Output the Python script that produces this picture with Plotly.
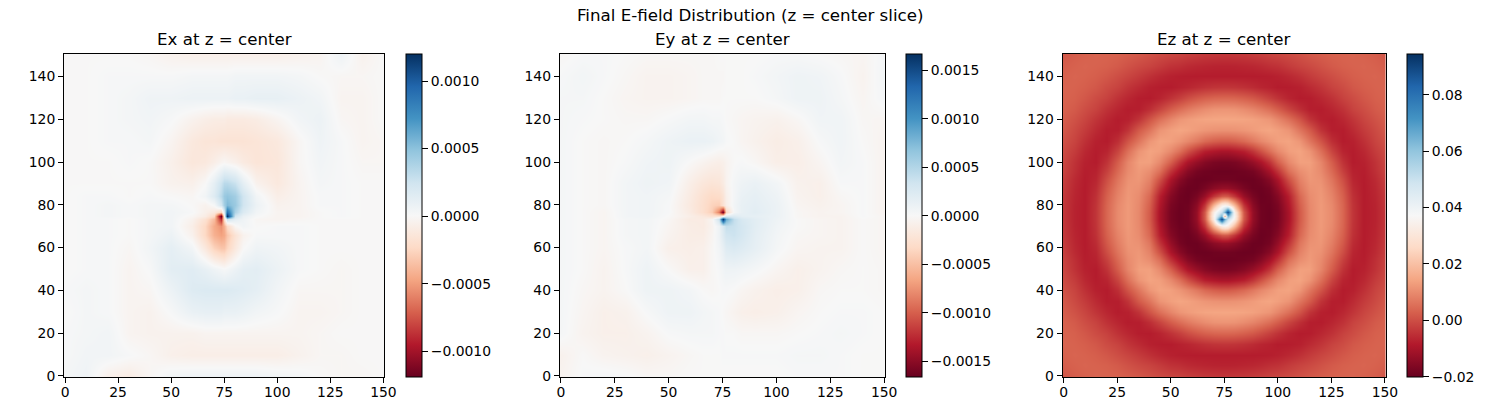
import plotly.graph_objects as go

ex_nodes = [0, 10, 20, 30, 40, 50, 60, 66, 70, 73.5, 75, 76.5, 80, 84, 90, 100, 110, 120, 130, 140, 150]
ez_nodes = [0, 5, 10, 15, 20, 25, 30, 35, 40, 45, 50, 54, 58, 62, 66, 70, 73.5, 75, 76.5, 80, 84, 88, 92, 96,
            100, 105, 110, 115, 120, 125, 130, 135, 140, 145, 150]

# Values, bottom row first. Ex in units of 1.5e-5, Ey in 1.7e-5, Ez in 1e-4.
ex_values = [
 [2,4,-4,-6,-1,3,4,4,4,4,4,4,4,4,4,3,2,0,-1,-1,0],
 [1,3,3,1,-1,-4,-5,-5,-5,-5,-5,-5,-5,-5,-5,-5,-3,-1,-1,0,0],
 [1,2,3,-2,-3,-3,-3,-2,-2,-2,-2,-2,-2,-2,-2,-2,-2,-1,0,0,0],
 [0,2,1,-2,-3,1,6,7,7,7,6,6,6,5,3,1,-2,-2,-1,0,0],
 [1,2,1,-2,-1,5,11,12,12,12,12,12,11,10,8,3,-1,-1,-1,0,0],
 [0,1,1,-2,1,9,10,7,4,2,1,2,5,8,9,5,1,0,-1,0,0],
 [0,1,1,-1,3,8,3,-8,-18,-22,-22,-17,-8,0,4,3,1,0,0,0,0],
 [0,1,1,0,2,5,-3,-16,-28,-32,-30,-22,-11,-3,1,1,1,0,0,0,0],
 [0,1,1,0,2,3,-5,-16,-30,-36,-28,-15,-1,3,0,1,1,0,0,0,0],
 [0,1,1,0,2,3,-3,-12,-25,-60,-13,17,8,4,-1,-2,-1,0,0,0,0],
 [0,1,2,1,2,3,-1,-6,-16,-80,0,80,16,6,1,-2,-2,0,1,0,0],
 [0,1,2,1,2,3,1,-4,-8,-17,13,60,25,12,3,-2,-2,0,1,0,0],
 [0,1,2,1,2,2,0,-3,1,15,28,36,30,16,5,-3,-2,1,1,0,0],
 [0,1,1,0,1,0,-1,3,11,22,30,32,28,16,3,-5,-2,1,1,0,0],
 [0,0,0,0,0,-3,-4,0,8,17,22,22,18,8,-3,-8,-2,2,1,0,0],
 [0,0,0,1,0,-4,-9,-8,-5,-2,-1,-2,-4,-7,-10,-9,-1,3,1,-1,-1],
 [0,0,1,1,2,-2,-8,-10,-10,-11,-11,-11,-11,-11,-10,-8,-1,4,1,-2,-1],
 [0,0,1,2,3,1,-3,-5,-6,-6,-6,-7,-7,-7,-6,-2,3,5,-1,-2,0],
 [0,0,1,2,4,4,5,5,5,5,5,5,6,6,7,7,5,3,-2,-2,0],
 [0,0,1,1,1,1,2,2,2,2,2,2,3,3,3,3,2,0,-1,-1,0],
 [0,0,0,0,-1,-3,-4,-4,-4,-4,-4,-4,-4,-4,-4,-4,-3,-2,4,-3,0],
]

ey_values = [
 [-3,1,2,1,-1,-1,0,0,0,0,0,0,0,0,0,0,1,1,1,0,0],
 [-4,0,-3,-4,-5,-3,-1,0,0,0,1,1,1,1,1,1,2,2,1,0,0],
 [2,-3,-5,-5,-3,1,2,2,2,1,1,0,0,-1,-1,-1,0,1,2,1,0],
 [2,-2,-5,-4,1,5,5,3,2,1,0,-1,-3,-5,-6,-5,-2,0,1,1,0],
 [2,-1,-3,0,5,5,3,0,-1,0,1,1,0,-2,-4,-6,-5,-1,0,0,-1],
 [2,0,-3,1,5,0,-5,-5,-1,1,3,5,5,4,2,-2,-5,-3,-1,0,-1],
 [2,0,-2,1,3,-5,-6,-5,-1,3,8,13,15,13,9,2,-2,-3,-3,0,-2],
 [2,0,-2,2,3,-3,-7,-7,-2,5,13,19,21,17,10,3,-1,-2,-3,0,-2],
 [2,0,-2,2,3,-2,-7,-8,-3,5,15,24,22,18,11,4,0,-2,-3,0,-2],
 [2,0,-2,2,3,-1,-8,-8,-2,20,98,50,24,16,11,5,0,-2,-3,0,-2],
 [2,0,-2,3,4,0,-6,-10,-14,-14,0,14,14,10,9,6,-1,-3,-3,1,-2],
 [2,0,-2,3,4,1,-8,-16,-24,-50,-98,-20,2,8,11,6,-1,-3,-2,1,-3],
 [2,0,-1,3,4,1,-9,-16,-22,-24,-14,-6,3,8,10,6,-2,-4,-2,1,-3],
 [2,0,-1,3,4,2,-8,-15,-19,-18,-13,-5,2,7,9,5,-3,-5,-1,1,-3],
 [2,0,-1,3,5,4,-6,-11,-13,-12,-8,-3,2,5,7,3,-4,-5,1,1,-3],
 [2,0,-1,1,4,5,0,-3,-5,-6,-5,-3,0,1,-1,-6,-6,-2,3,1,-3],
 [2,0,-1,0,2,5,7,7,6,4,3,1,0,-2,-4,-7,-5,1,4,0,-3],
 [2,1,0,-1,-1,1,3,3,2,2,1,0,-1,-2,-3,-4,-1,4,4,-1,-2],
 [2,2,0,-2,-3,-3,-2,-1,-1,-1,0,0,0,0,0,2,5,5,2,-2,2],
 [1,3,1,-1,-3,-3,-2,-1,-1,-1,-1,0,0,0,1,3,5,4,1,-3,3],
 [-1,1,1,0,-1,-1,-1,-1,-1,0,0,0,0,0,0,1,1,0,-1,-2,2],
]

ez_values = [
 [15,25,31,35,33,30,23,15,4,-6,-14,-19,-26,-31,-36,-38,-40,-40,-40,-38,-36,-31,-26,-19,-14,-6,4,15,23,30,33,35,31,25,15],
 [25,31,35,32,28,19,6,-7,-17,-30,-45,-50,-58,-63,-66,-69,-70,-70,-70,-69,-66,-63,-58,-50,-45,-30,-17,-7,6,19,28,32,35,31,25],
 [31,35,32,26,15,0,-14,-30,-47,-61,-72,-77,-79,-80,-80,-80,-80,-80,-80,-80,-80,-80,-79,-77,-72,-61,-47,-30,-14,0,15,26,32,35,31],
 [35,32,26,15,-3,-18,-40,-57,-73,-79,-80,-72,-65,-55,-47,-42,-40,-40,-40,-42,-47,-55,-65,-72,-80,-79,-73,-57,-40,-18,-3,15,26,32,35],
 [33,28,15,-3,-20,-45,-63,-78,-80,-67,-43,-22,0,18,30,38,40,40,40,38,30,18,0,-22,-43,-67,-80,-78,-63,-45,-20,-3,15,28,33],
 [30,19,0,-18,-45,-65,-79,-76,-50,-15,25,52,73,90,103,113,115,115,115,113,103,90,73,52,25,-15,-50,-76,-79,-65,-45,-18,0,19,30],
 [23,6,-14,-40,-63,-79,-73,-42,10,55,92,117,128,137,142,144,145,145,145,144,142,137,128,117,92,55,10,-42,-73,-79,-63,-40,-14,6,23],
 [15,-7,-30,-57,-78,-76,-42,20,65,115,134,144,138,127,118,112,110,110,110,112,118,127,138,144,134,115,65,20,-42,-76,-78,-57,-30,-7,15],
 [4,-17,-47,-73,-80,-50,10,65,118,141,135,117,95,70,45,28,20,20,20,28,45,70,95,117,135,141,118,65,10,-50,-80,-73,-47,-17,4],
 [-6,-30,-61,-79,-67,-15,55,115,141,132,97,55,5,-40,-75,-90,-100,-100,-100,-90,-75,-40,5,55,97,132,141,115,55,-15,-67,-79,-61,-30,-6],
 [-14,-45,-72,-80,-43,25,92,134,135,97,28,-42,-97,-130,-155,-170,-175,-175,-175,-170,-155,-130,-97,-42,28,97,135,134,92,25,-43,-80,-72,-45,-14],
 [-19,-50,-77,-72,-22,45,100,125,105,55,-42,-105,-150,-177,-186,-190,-193,-193,-193,-190,-186,-177,-150,-105,-42,55,105,125,100,45,-22,-72,-77,-50,-19],
 [-26,-58,-79,-65,0,63,110,120,85,5,-97,-150,-180,-192,-193,-188,-185,-185,-185,-188,-193,-192,-180,-150,-97,5,85,120,110,63,0,-65,-79,-58,-26],
 [-31,-63,-80,-55,18,78,118,110,65,-40,-130,-177,-192,-191,-172,-145,-130,-130,-130,-145,-172,-191,-192,-177,-130,-40,65,110,118,78,18,-55,-80,-63,-31],
 [-36,-66,-80,-47,30,88,122,102,42,-75,-155,-186,-193,-172,-125,-40,15,20,15,-40,-125,-172,-193,-186,-155,-75,42,102,122,88,30,-47,-80,-66,-36],
 [-38,-69,-80,-42,38,97,125,97,28,-90,-170,-190,-188,-145,-40,175,330,350,330,175,-40,-145,-188,-190,-170,-90,28,97,125,97,38,-42,-80,-69,-38],
 [-40,-70,-80,-40,40,100,125,95,20,-100,-175,-193,-185,-130,15,330,900,650,500,330,15,-130,-185,-193,-175,-100,20,95,125,100,40,-40,-80,-70,-40],
 [-40,-70,-80,-40,40,100,125,95,20,-100,-175,-193,-185,-130,20,350,650,150,650,350,20,-130,-185,-193,-175,-100,20,95,125,100,40,-40,-80,-70,-40],
 [-40,-70,-80,-40,40,100,125,95,20,-100,-175,-193,-185,-130,15,330,500,650,900,330,15,-130,-185,-193,-175,-100,20,95,125,100,40,-40,-80,-70,-40],
 [-38,-69,-80,-42,38,97,125,97,28,-90,-170,-190,-188,-145,-40,175,330,350,330,175,-40,-145,-188,-190,-170,-90,28,97,125,97,38,-42,-80,-69,-38],
 [-36,-66,-80,-47,30,88,122,102,42,-75,-155,-186,-193,-172,-125,-40,15,20,15,-40,-125,-172,-193,-186,-155,-75,42,102,122,88,30,-47,-80,-66,-36],
 [-31,-63,-80,-55,18,78,118,110,65,-40,-130,-177,-192,-191,-172,-145,-130,-130,-130,-145,-172,-191,-192,-177,-130,-40,65,110,118,78,18,-55,-80,-63,-31],
 [-26,-58,-79,-65,0,63,110,120,85,5,-97,-150,-180,-192,-193,-188,-185,-185,-185,-188,-193,-192,-180,-150,-97,5,85,120,110,63,0,-65,-79,-58,-26],
 [-19,-50,-77,-72,-22,45,100,125,105,55,-42,-105,-150,-177,-186,-190,-193,-193,-193,-190,-186,-177,-150,-105,-42,55,105,125,100,45,-22,-72,-77,-50,-19],
 [-14,-45,-72,-80,-43,25,92,134,135,97,28,-42,-97,-130,-155,-170,-175,-175,-175,-170,-155,-130,-97,-42,28,97,135,134,92,25,-43,-80,-72,-45,-14],
 [-6,-30,-61,-79,-67,-15,55,115,141,132,97,55,5,-40,-75,-90,-100,-100,-100,-90,-75,-40,5,55,97,132,141,115,55,-15,-67,-79,-61,-30,-6],
 [4,-17,-47,-73,-80,-50,10,65,118,141,135,117,95,70,45,28,20,20,20,28,45,70,95,117,135,141,118,65,10,-50,-80,-73,-47,-17,4],
 [15,-7,-30,-57,-78,-76,-42,20,65,115,134,144,138,127,118,112,110,110,110,112,118,127,138,144,134,115,65,20,-42,-76,-78,-57,-30,-7,15],
 [23,6,-14,-40,-63,-79,-73,-42,10,55,92,117,128,137,142,144,145,145,145,144,142,137,128,117,92,55,10,-42,-73,-79,-63,-40,-14,6,23],
 [30,19,0,-18,-45,-65,-79,-76,-50,-15,25,52,73,90,103,113,115,115,115,113,103,90,73,52,25,-15,-50,-76,-79,-65,-45,-18,0,19,30],
 [33,28,15,-3,-20,-45,-63,-78,-80,-67,-43,-22,0,18,30,38,40,40,40,38,30,18,0,-22,-43,-67,-80,-78,-63,-45,-20,-3,15,28,33],
 [35,32,26,15,-3,-18,-40,-57,-73,-79,-80,-72,-65,-55,-47,-42,-40,-40,-40,-42,-47,-55,-65,-72,-80,-79,-73,-57,-40,-18,-3,15,26,32,35],
 [31,35,32,26,15,0,-14,-30,-47,-61,-72,-77,-79,-80,-80,-80,-80,-80,-80,-80,-80,-80,-79,-77,-72,-61,-47,-30,-14,0,15,26,32,35,31],
 [25,31,35,32,28,19,6,-7,-17,-30,-45,-50,-58,-63,-66,-69,-70,-70,-70,-69,-66,-63,-58,-50,-45,-30,-17,-7,6,19,28,32,35,31,25],
 [15,25,31,35,33,30,23,15,4,-6,-14,-19,-26,-31,-36,-38,-40,-40,-40,-38,-36,-31,-26,-19,-14,-6,4,15,23,30,33,35,31,25,15],
]

titles = ["Ex at z = center", "Ey at z = center", "Ez at z = center"]
suptitle = "Final E-field Distribution (z = center slice)"
ex_ticks = [-0.001, -0.0005, 0, 0.0005, 0.001]
ey_ticks = [-0.0015, -0.001, -0.0005, 0, 0.0005, 0.001, 0.0015]
ez_ticks = [-0.02, 0, 0.02, 0.04, 0.06, 0.08]
x_ticks = [0, 25, 50, 75, 100, 125, 150]
y_ticks = [0, 20, 40, 60, 80, 100, 120, 140]

W, H = 1500, 400
L, R, TOP, BOTTOM = 63.7, 1386.3, 54.3, 376.7
FONT = "DejaVu Sans"
RDBU = ["#67001f", "#b2182b", "#d6604d", "#f4a582", "#fddbc7", "#f7f7f7",
        "#d1e5f0", "#92c5de", "#4393c3", "#2166ac", "#053061"]


def px(v):
    return (v - L) / (R - L)


def py(v):
    return (BOTTOM - v) / (BOTTOM - TOP)


panels = [
    dict(z=ex_values, nodes=ex_nodes, unit=1.5e-5, zmin=-0.00119, zmax=0.00120, ticks=ex_ticks, fmt=".4f",
         left=63.7, right=384.3, cb=405.7),
    dict(z=ey_values, nodes=ex_nodes, unit=1.7e-5, zmin=-0.00166, zmax=0.00167, ticks=ey_ticks, fmt=".4f",
         left=559.7, right=885.3, cb=906.3),
    dict(z=ez_values, nodes=ez_nodes, unit=1e-4, zmin=-0.0201, zmax=0.0945, ticks=ez_ticks, fmt=".2f",
         left=1062.7, right=1386.3, cb=1407.3),
]

fig = go.Figure()
layout = dict(
    width=W, height=H,
    margin=dict(l=L, r=W - R, t=TOP, b=H - BOTTOM, pad=0, autoexpand=False),
    paper_bgcolor="white", plot_bgcolor="white",
    font=dict(family=FONT, size=13.9, color="black"), showlegend=False, annotations=[],
)
axis_style = dict(showgrid=False, zeroline=False, showline=True, linecolor="black", linewidth=1,
                  mirror=True, ticks="outside", ticklen=5, tickwidth=1, tickcolor="black",
                  range=[-0.5, 150.5], tickfont=dict(family=FONT, size=13.9, color="black"))

for i, p in enumerate(panels):
    n = "" if i == 0 else str(i + 1)
    fig.add_trace(go.Heatmap(
        x=p["nodes"], y=p["nodes"], z=[[v * p["unit"] for v in row] for row in p["z"]],
        xaxis=f"x{n}", yaxis=f"y{n}", zsmooth="best", zmin=p["zmin"], zmax=p["zmax"],
        colorscale=[[k / 10, c] for k, c in enumerate(RDBU)], hoverinfo="skip",
        colorbar=dict(
            x=px(p["cb"]), xanchor="left", xpad=0, thickness=16, thicknessmode="pixels",
            y=0, yanchor="bottom", ypad=0, len=1, lenmode="fraction",
            outlinecolor="black", outlinewidth=1, tickvals=p["ticks"], tickformat=p["fmt"],
            ticks="outside", ticklen=6, tickwidth=1, tickcolor="black",
            tickfont=dict(family=FONT, size=13.9, color="black"),
        ),
    ))
    layout[f"xaxis{n}"] = dict(axis_style, domain=[px(p["left"]), px(p["right"])], anchor=f"y{n}",
                               tickvals=x_ticks, ticklabelstandoff=-3)
    layout[f"yaxis{n}"] = dict(axis_style, domain=[0, 1], anchor=f"x{n}", tickvals=y_ticks)
    layout["annotations"].append(dict(
        text=titles[i], xref="paper", yref="paper", showarrow=False,
        x=px((p["left"] + p["right"]) / 2), y=py(40), yanchor="middle", xanchor="center",
        font=dict(family=FONT, size=16.67, color="black"),
    ))

layout["annotations"].append(dict(
    text=suptitle, xref="paper", yref="paper", showarrow=False, x=px(750), y=py(16),
    yanchor="middle", xanchor="center", font=dict(family=FONT, size=16.67, color="black"),
))
fig.update_layout(**layout)
fig.write_html("out.html", config={"displayModeBar": False}, post_script="document.body.style.margin='0';")
